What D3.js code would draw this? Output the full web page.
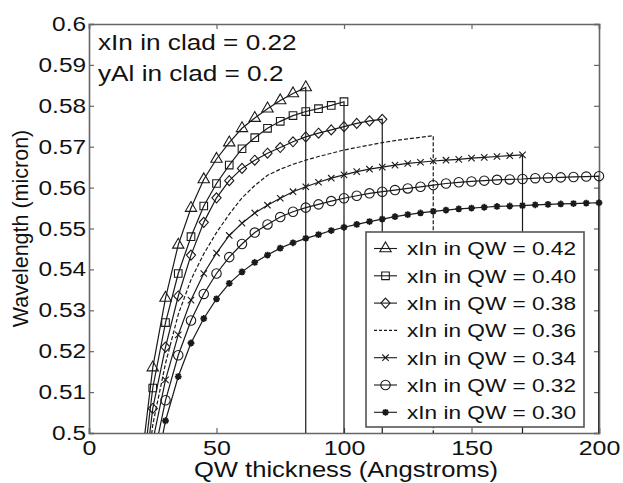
<!DOCTYPE html>
<html>
<head>
<meta charset="utf-8">
<script src="https://cdn.jsdelivr.net/npm/d3@7"></script>
<style>
  body { margin: 0; background: #fff; }
  text { font-family: "Liberation Sans", Arial, sans-serif; fill: #111; }
</style>
</head>
<body>
<svg width="623" height="483"></svg>
<script>
// well thickness (Angstroms)
var thickness = [20,25,30,35,40,45,50,55,60,65,70,75,80,85,90,95,100,105,110,115,120,
                 125,130,135,140,145,150,155,160,165,170,175,180,185,190,195,200];

// wavelength (micron) for each In fraction in the QW, starting at 20 A
var wl42 = [0.490,0.516,0.533,0.546,0.555,0.562,0.567,0.571,0.5745,0.577,0.5793,0.5813,0.583,0.5845];
var wl40 = [0.485,0.511,0.527,0.539,0.548,0.5555,0.561,0.5655,0.5695,0.5722,0.5745,0.5762,0.5776,0.5786,
            0.5793,0.5801,0.581];
var wl38 = [0.480,0.506,0.521,0.5335,0.5435,0.5515,0.5575,0.5617,0.5647,0.5667,0.5684,0.5698,0.5712,0.5724,
            0.5733,0.5741,0.5749,0.5757,0.5763,0.5767];
var wl36 = [0.475,0.502,0.517,0.529,0.5375,0.5438,0.549,0.5535,0.5575,0.5605,0.563,0.5645,0.5657,0.5667,
            0.5676,0.5684,0.5692,0.5698,0.5704,0.571,0.5715,0.5719,0.5723,0.5727];
var wl34 = [0.470,0.498,0.513,0.524,0.5325,0.539,0.544,0.5483,0.5513,0.5538,0.5557,0.5574,0.559,0.5602,
            0.5613,0.5623,0.5631,0.5639,0.5645,0.565,0.5655,0.5659,0.5662,0.5665,0.5667,0.5669,0.5672,
            0.5674,0.5676,0.5678,0.568];
var wl32 = [0.465,0.493,0.508,0.519,0.5275,0.534,0.539,0.543,0.5462,0.549,0.551,0.5528,0.5541,0.5551,
            0.5559,0.5567,0.5574,0.558,0.5586,0.559,0.5594,0.5598,0.5602,0.5606,0.561,0.5613,0.5615,
            0.5617,0.5619,0.562,0.5621,0.5623,0.5624,0.5625,0.5626,0.5627,0.5628];
var wl30 = [0.460,0.487,0.503,0.5138,0.522,0.528,0.5328,0.5366,0.5394,0.5417,0.5435,0.5452,0.5465,0.5476,
            0.5485,0.5495,0.5503,0.551,0.5517,0.5523,0.5529,0.5534,0.5538,0.5542,0.5545,0.5548,0.555,
            0.5552,0.5554,0.5555,0.5556,0.5558,0.5559,0.556,0.5561,0.5562,0.5563];

var seriesNames = ["xIn in QW = 0.42","xIn in QW = 0.40","xIn in QW = 0.38","xIn in QW = 0.36",
                   "xIn in QW = 0.34","xIn in QW = 0.32","xIn in QW = 0.30"];
var markers = ["triangle","square","diamond","none","x","circle","asterisk"];
var seriesValues = [wl42, wl40, wl38, wl36, wl34, wl32, wl30];

var xTicks = [0, 50, 100, 150, 200];
var yTicks = [0.5,0.51,0.52,0.53,0.54,0.55,0.56,0.57,0.58,0.59,0.6];
var yTickLabels = ["0.5","0.51","0.52","0.53","0.54","0.55","0.56","0.57","0.58","0.59","0.6"];
var notes = ["xIn in clad = 0.22", "yAl in clad = 0.2"];

var SX = 1.19; // the picture is a bit wide, text is stretched sideways
var INK = "#1a1a1a";

var svg = d3.select("svg"),
    margin = {top: 24, right: 24, bottom: 50, left: 89},
    width = +svg.attr("width") - margin.left - margin.right,
    height = +svg.attr("height") - margin.top - margin.bottom;

var x = d3.scaleLinear().domain([0, 200]).range([0, width]),
    y = d3.scaleLinear().domain([0.5, 0.6]).range([height, 0]);

var g = svg.append("g")
    .attr("transform", "translate(" + margin.left + "," + margin.top + ")");

svg.append("defs").append("clipPath").attr("id", "plotclip")
  .append("rect").attr("x", 0).attr("y", 0).attr("width", width).attr("height", height);

// stretch axis labels around their anchor point
function stretchTicks(sel) {
  sel.selectAll(".tick text").each(function() {
    var t = d3.select(this);
    var tx = +t.attr("x") || 0, ty = +t.attr("y") || 0;
    t.attr("x", 0).attr("y", 0)
     .attr("transform", "translate(" + tx + "," + ty + ") scale(" + SX + ",1)");
  });
}

var gx = g.append("g")
    .attr("transform", "translate(0," + height + ")")
    .call(d3.axisBottom(x).tickValues(xTicks).tickSize(-5).tickPadding(7).tickFormat(d3.format("d")));
gx.call(stretchTicks);
gx.selectAll("text").style("font-size", "21px").attr("fill", INK);

var gy = g.append("g")
    .call(d3.axisLeft(y).tickValues(yTicks).tickSize(-5).tickPadding(3)
      .tickFormat(function(d, i) { return yTickLabels[i]; }));
gy.call(stretchTicks);
gy.selectAll("text").style("font-size", "20.5px").attr("fill", INK);

g.append("g").attr("transform", "translate(" + width + ",0)")
    .call(d3.axisRight(y).tickValues(yTicks).tickSize(-5).tickFormat(""));
g.append("g")
    .call(d3.axisTop(x).tickValues(xTicks).tickSize(-5).tickFormat(""));

g.selectAll(".domain").attr("stroke", "#666").attr("stroke-width", 1.6);
g.selectAll(".tick line").attr("stroke", "#666").attr("stroke-width", 1.2);

// marker shapes
function markerPath(kind) {
  if (kind === "triangle") return d3.symbol().type(d3.symbolTriangle).size(56)();
  if (kind === "square") return d3.symbol().type(d3.symbolSquare).size(58)();
  if (kind === "diamond") return "M0,-5L4.6,0L0,5L-4.6,0Z";
  if (kind === "circle") return d3.symbol().type(d3.symbolCircle).size(70)();
  if (kind === "x") return "M-3.2,-3.2L3.2,3.2M-3.2,3.2L3.2,-3.2";
  if (kind === "asterisk") return "M-3.4,0L3.4,0M0,-3.4L0,3.4M-2.4,-2.4L2.4,2.4M-2.4,2.4L2.4,-2.4";
  return null;
}

var line = d3.line()
    .x(function(d) { return x(d.t); })
    .y(function(d) { return y(d.w); });

var plot = g.append("g").attr("clip-path", "url(#plotclip)");

seriesValues.forEach(function(vals, si) {
  var pts = vals.map(function(w, i) { return {t: thickness[i], w: w}; });
  var last = pts[pts.length - 1];
  // curve then a drop to the bottom of the axis at the last thickness
  var path = pts.concat([{t: last.t, w: y.domain()[0] - 0.01}]);
  var dashed = markers[si] === "none";
  plot.append("path")
      .datum(path)
      .attr("d", line)
      .attr("fill", "none")
      .attr("stroke", INK)
      .attr("stroke-width", 1.2)
      .attr("stroke-dasharray", dashed ? "4,2" : null);

  var mp = markerPath(markers[si]);
  if (mp) {
    g.selectAll(".m" + si)
      .data(pts.filter(function(d) { return d.w >= 0.5; }))
      .enter().append("path")
        .attr("class", "m" + si)
        .attr("transform", function(d) { return "translate(" + x(d.t) + "," + y(d.w) + ")"; })
        .attr("d", mp)
        .attr("fill", "none")
        .attr("stroke", INK)
        .attr("stroke-width", markers[si] === "asterisk" ? 1.8 : 1.1);
  }
});

// notes in the corner
notes.forEach(function(n, i) {
  svg.append("text")
    .attr("transform", "translate(98," + (50 + i * 31) + ") scale(" + SX + ",1)")
    .style("font-size", "22px")
    .attr("fill", INK)
    .text(n);
});

// legend
var lg = svg.append("g");
lg.append("rect")
    .attr("x", 366).attr("y", 232).attr("width", 218).attr("height", 195)
    .attr("fill", "#fff").attr("stroke", "#555").attr("stroke-width", 1.6);
seriesNames.forEach(function(name, i) {
  var cy = 248.5 + i * 27.3;
  lg.append("line")
    .attr("x1", 374).attr("x2", 397).attr("y1", cy).attr("y2", cy)
    .attr("stroke", INK).attr("stroke-width", 1.1)
    .attr("stroke-dasharray", markers[i] === "none" ? "3,2" : null);
  var mp = markerPath(markers[i]);
  if (mp) {
    lg.append("path")
      .attr("transform", "translate(385.5," + cy + ")")
      .attr("d", mp)
      .attr("fill", "none").attr("stroke", INK)
      .attr("stroke-width", markers[i] === "asterisk" ? 1.8 : 1.1);
  }
  lg.append("text")
    .attr("transform", "translate(407," + (cy + 6.8) + ") scale(" + SX + ",1)")
    .style("font-size", "19px")
    .attr("fill", INK)
    .text(name);
});

// axis titles
svg.append("text")
    .attr("transform", "translate(" + (margin.left + width / 2 + 2) + ",477) scale(" + SX + ",1)")
    .style("text-anchor", "middle")
    .style("font-size", "21.5px")
    .attr("fill", INK)
    .text("QW thickness (Angstroms)");

svg.append("text")
    .attr("transform", "translate(28," + (margin.top + height / 2) + ") rotate(-90)")
    .style("text-anchor", "middle")
    .style("font-size", "21.5px")
    .attr("fill", INK)
    .text("Wavelength (micron)");
</script>
</body>
</html>
